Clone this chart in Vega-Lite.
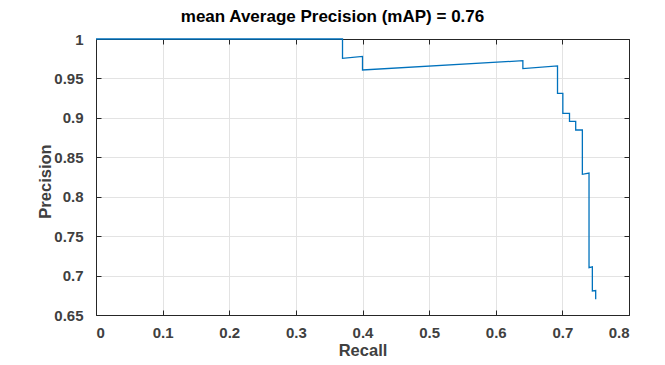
{
  "$schema": "https://vega.github.io/schema/vega-lite/v6.json",
  "width": 533,
  "height": 276,
  "autosize": "none",
  "padding": {"left": 96, "top": 39, "right": 36, "bottom": 50},
  "background": "white",
  "title": {"text": "mean Average Precision (mAP) = 0.76", "dx": -30},
  "config": {
    "font": "Liberation Sans",
    "view": {"stroke": null},
    "title": {"fontSize": 17, "fontWeight": "bold", "color": "#000000", "offset": 6},
    "axis": {
      "domain": true,
      "domainColor": "#262626",
      "domainWidth": 1,
      "gridColor": "#e3e3e3",
      "gridWidth": 1,
      "tickColor": "#262626",
      "tickSize": -5,
      "labelFont": "Liberation Sans",
      "labelFontSize": 15,
      "labelFontWeight": "bold",
      "labelColor": "#404040",
      "titleFont": "Liberation Sans",
      "titleFontSize": 16.5,
      "titleFontWeight": "bold",
      "titleColor": "#404040",
      "zindex": 0
    }
  },
  "data": {
    "values": [
      {"i": 0, "r": 0.0, "p": 1.0},
      {"i": 1, "r": 0.370, "p": 1.0},
      {"i": 2, "r": 0.370, "p": 0.9755},
      {"i": 3, "r": 0.400, "p": 0.978},
      {"i": 4, "r": 0.400, "p": 0.9607},
      {"i": 5, "r": 0.6407, "p": 0.9725},
      {"i": 6, "r": 0.6407, "p": 0.9624},
      {"i": 7, "r": 0.6927, "p": 0.9658},
      {"i": 8, "r": 0.6927, "p": 0.931},
      {"i": 9, "r": 0.7007, "p": 0.931},
      {"i": 10, "r": 0.7007, "p": 0.9058},
      {"i": 11, "r": 0.7107, "p": 0.9058},
      {"i": 12, "r": 0.7107, "p": 0.8956},
      {"i": 13, "r": 0.720, "p": 0.8956},
      {"i": 14, "r": 0.720, "p": 0.8846},
      {"i": 15, "r": 0.730, "p": 0.8846},
      {"i": 16, "r": 0.730, "p": 0.8284},
      {"i": 17, "r": 0.740, "p": 0.830},
      {"i": 18, "r": 0.740, "p": 0.710},
      {"i": 19, "r": 0.745, "p": 0.711},
      {"i": 20, "r": 0.745, "p": 0.6805},
      {"i": 21, "r": 0.750, "p": 0.681},
      {"i": 22, "r": 0.750, "p": 0.670}
    ]
  },
  "layer": [
    {
      "mark": {"type": "line", "color": "#0072BD", "strokeWidth": 1.3, "clip": false},
      "encoding": {
        "x": {
          "field": "r", "type": "quantitative",
          "scale": {"domain": [0, 0.8], "nice": false},
          "axis": {"orient": "bottom", "title": "Recall", "values": [0, 0.1, 0.2, 0.3, 0.4, 0.5, 0.6, 0.7, 0.8], "format": ".1~f", "labelPadding": 15, "titleBaseline": "alphabetic", "titleY": 40}
        },
        "y": {
          "field": "p", "type": "quantitative",
          "scale": {"domain": [0.65, 1], "nice": false, "zero": false},
          "axis": {"orient": "left", "title": "Precision", "values": [0.65, 0.7, 0.75, 0.8, 0.85, 0.9, 0.95, 1], "format": ".2~f", "labelPadding": 18, "titleBaseline": "middle", "titleX": -51, "titleY": 142}
        },
        "order": {"field": "i", "type": "quantitative"}
      }
    },
    {
      "mark": {"type": "line", "opacity": 0},
      "encoding": {
        "x": {
          "field": "r", "type": "quantitative",
          "axis": {"orient": "top", "title": null, "labels": false, "grid": false, "values": [0, 0.1, 0.2, 0.3, 0.4, 0.5, 0.6, 0.7, 0.8]}
        },
        "y": {
          "field": "p", "type": "quantitative",
          "axis": {"orient": "right", "title": null, "labels": false, "grid": false, "values": [0.65, 0.7, 0.75, 0.8, 0.85, 0.9, 0.95, 1]}
        },
        "order": {"field": "i", "type": "quantitative"}
      }
    }
  ],
  "resolve": {"axis": {"x": "independent", "y": "independent"}}
}
